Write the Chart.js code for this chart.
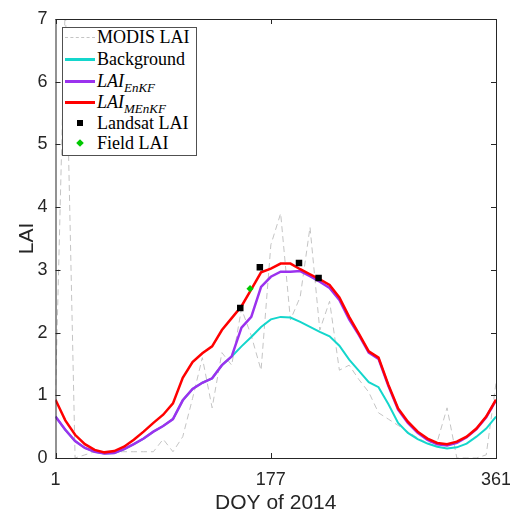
<!DOCTYPE html>
<html>
<head>
<meta charset="utf-8">
<script src="https://cdn.jsdelivr.net/npm/chart.js@4.4.1/dist/chart.umd.min.js"></script>
<style>
  html, body { margin: 0; padding: 0; background: #fff; }
  #wrap { position: relative; width: 510px; height: 513px; }
  #legend {
    position: absolute; left: 62px; top: 27px; width: 133px; height: 127px;
    border: 1px solid #505050; background: #fff;
    font-family: "Liberation Serif", "Times New Roman", serif; font-size: 18px; color: #000;
  }
  .row { position: absolute; left: 0; height: 20px; line-height: 20px; white-space: nowrap; }
  .row .txt { position: absolute; left: 34px; top: -1px; font-family: "Liberation Serif", serif; }
  .row .sym { position: absolute; left: 2px; width: 30px; }
  sub { font-size: 13px; vertical-align: -5px; line-height: 0; }
</style>
</head>
<body>
<div id="wrap">
  <canvas id="myChart" width="510" height="513"></canvas>
  <div id="legend"></div>
</div>
<script>
// day of year (8-day steps)
const doy = [1,9,17,25,33,41,49,57,65,73,81,89,97,105,113,121,129,137,145,153,161,169,177,185,193,201,209,217,225,233,241,249,257,265,273,281,289,297,305,313,321,329,337,345,353,361]

const modisLai = [1.0,7.3,0,0.05,0.1,0.1,0.1,0.1,0.1,0.1,0.1,0.3,0.1,0.34,0.95,1.6,0.8,1.68,1.48,2.38,1.95,1.4,3.4,3.9,2.2,2.57,3.68,2.04,2.5,1.4,1.48,1.25,1.05,0.72,0.62,0.52,0.42,0.32,0.24,0.26,0.8,0,0,0,0.05,1.2]

const background = [0.66,0.45,0.27,0.16,0.1,0.07,0.08,0.14,0.22,0.31,0.42,0.51,0.62,0.92,1.1,1.2,1.27,1.48,1.62,1.78,1.93,2.09,2.21,2.25,2.24,2.17,2.09,2.01,1.94,1.79,1.57,1.39,1.21,1.13,0.86,0.56,0.4,0.3,0.23,0.18,0.15,0.17,0.23,0.34,0.47,0.66]

const laiEnKF = [0.66,0.45,0.27,0.16,0.1,0.07,0.08,0.14,0.22,0.31,0.42,0.51,0.62,0.92,1.1,1.2,1.27,1.48,1.62,2.08,2.25,2.73,2.89,2.97,2.97,2.98,2.9,2.81,2.71,2.52,2.21,1.96,1.68,1.58,1.15,0.77,0.56,0.4,0.29,0.22,0.2,0.24,0.33,0.46,0.65,0.92]

const laiMEnKF = [0.93,0.6,0.37,0.22,0.13,0.09,0.11,0.18,0.29,0.42,0.56,0.69,0.87,1.28,1.53,1.67,1.78,2.04,2.23,2.42,2.69,2.96,3.02,3.1,3.1,3.01,2.93,2.85,2.76,2.56,2.25,1.98,1.7,1.6,1.17,0.79,0.58,0.42,0.31,0.24,0.22,0.26,0.34,0.47,0.66,0.93]

const landsatDoy = [152,168,200,216]
const landsatLai = [2.39,3.04,3.11,2.87]

const fieldDoy = [160]
const fieldLai = [2.7]

const xTicks = [1,177,361]
const yTicks = [0,1,2,3,4,5,6,7]

const legendItems = [
  {label: 'MODIS LAI', kind: 'dash', color: '#c4c4c4'},
  {label: 'Background', kind: 'line', color: '#14d6cc'},
  {label: '<i>LAI<sub>EnKF</sub></i>', kind: 'line', color: '#9b32ee'},
  {label: '<i>LAI<sub>MEnKF</sub></i>', kind: 'line', color: '#ff0000'},
  {label: 'Landsat LAI', kind: 'square', color: '#000'},
  {label: 'Field LAI', kind: 'diamond', color: '#00c800'}
]

function pts(xs, ys){
  return xs.map((x, i) => ({x: x, y: ys[i]}))
}

// box + inward ticks like the original figure
const boxPlugin = {
  id: 'boxPlugin',
  afterDraw(chart){
    const {ctx, chartArea: a, scales} = chart
    ctx.save()
    ctx.strokeStyle = '#262626'
    ctx.lineWidth = 1
    ctx.strokeRect(a.left + 0.5, a.top + 0.5, a.right - a.left, a.bottom - a.top)
    ctx.beginPath()
    xTicks.forEach(v => {
      let px = Math.round(scales.x.getPixelForValue(v)) + 0.5
      ctx.moveTo(px, a.bottom); ctx.lineTo(px, a.bottom - 5)
      ctx.moveTo(px, a.top); ctx.lineTo(px, a.top + 5)
    })
    yTicks.forEach(v => {
      let py = Math.round(scales.y.getPixelForValue(v)) + 0.5
      ctx.moveTo(a.left, py); ctx.lineTo(a.left + 5, py)
      ctx.moveTo(a.right, py); ctx.lineTo(a.right - 5, py)
    })
    ctx.stroke()
    ctx.restore()
  }
}

const ctx = document.getElementById('myChart')

// order: lower number is drawn on top
new Chart(ctx, {
  type: 'scatter',
  data: {
    datasets: [
      {
        label: 'MODIS LAI', data: pts(doy, modisLai), showLine: true, order: 5,
        borderColor: '#c4c4c4', borderWidth: 1, borderDash: [6,4], pointRadius: 0
      },
      {
        label: 'Background', data: pts(doy, background), showLine: true, order: 4,
        borderColor: '#14d6cc', borderWidth: 2, pointRadius: 0
      },
      {
        label: 'LAI EnKF', data: pts(doy, laiEnKF), showLine: true, order: 3,
        borderColor: '#9b32ee', borderWidth: 2.5, pointRadius: 0
      },
      {
        label: 'LAI MEnKF', data: pts(doy, laiMEnKF), showLine: true, order: 2,
        borderColor: '#ff0000', borderWidth: 2.5, pointRadius: 0
      },
      {
        label: 'Landsat LAI', data: pts(landsatDoy, landsatLai), order: 1,
        pointStyle: 'rect', pointRadius: 4.6, backgroundColor: '#000', borderColor: '#000', borderWidth: 0
      },
      {
        label: 'Field LAI', data: pts(fieldDoy, fieldLai), order: 0,
        pointStyle: 'rectRot', pointRadius: 3.6, backgroundColor: '#00c800', borderColor: '#00c800', borderWidth: 0
      }
    ]
  },
  options: {
    responsive: false,
    animation: false,
    layout: { padding: { left: 0, right: 14, top: 19, bottom: 0 } },
    plugins: { legend: { display: false }, tooltip: { enabled: false } },
    scales: {
      x: {
        type: 'linear', min: 1, max: 361,
        afterBuildTicks: s => { s.ticks = xTicks.map(v => ({value: v})) },
        afterFit: s => { s.height = 55; s.paddingLeft = 0; s.paddingRight = 0 },
        grid: { display: false, drawTicks: false },
        border: { display: false },
        ticks: { padding: 11, color: '#262626', font: { family: 'Liberation Sans, Arial', size: 18 }, maxRotation: 0 },
        title: { display: true, text: 'DOY of 2014', color: '#262626',
          font: { family: 'Liberation Sans, Arial', size: 21, lineHeight: 0.8 }, padding: { top: 0, bottom: 1 } }
      },
      y: {
        min: 0, max: 7,
        afterBuildTicks: s => { s.ticks = yTicks.map(v => ({value: v})) },
        afterFit: s => { s.width = 55.5; s.paddingTop = 0; s.paddingBottom = 0 },
        grid: { display: false, drawTicks: false },
        border: { display: false },
        ticks: { padding: 8, color: '#262626', font: { family: 'Liberation Sans, Arial', size: 18 } },
        title: { display: true, text: 'LAI', color: '#262626',
          font: { family: 'Liberation Sans, Arial', size: 21 }, padding: { top: 15, bottom: 0 } }
      }
    }
  },
  plugins: [boxPlugin]
})

// legend with subscripts
let legendDiv = document.querySelector('#legend')
let rowTops = [0, 22, 44, 65, 86, 106]
legendItems.forEach((item, i) => {
  let row = document.createElement('div')
  row.className = 'row'
  row.style.top = rowTops[i] + 'px'
  let sym = ''
  if(item.kind === 'dash'){
    sym = `<div class="sym" style="top:9px;border-top:1px dashed ${item.color}"></div>`
  } else if(item.kind === 'line'){
    sym = `<div class="sym" style="top:8px;height:2.5px;background:${item.color}"></div>`
  } else if(item.kind === 'square'){
    sym = `<div class="sym" style="top:6px;left:14px;width:6px;height:6px;background:${item.color}"></div>`
  } else {
    sym = `<div class="sym" style="top:6px;left:14px;width:6px;height:6px;background:${item.color};transform:rotate(45deg) scale(0.9,0.9)"></div>`
  }
  row.innerHTML = sym + `<span class="txt">${item.label}</span>`
  legendDiv.append(row)
})
</script>
</body>
</html>
